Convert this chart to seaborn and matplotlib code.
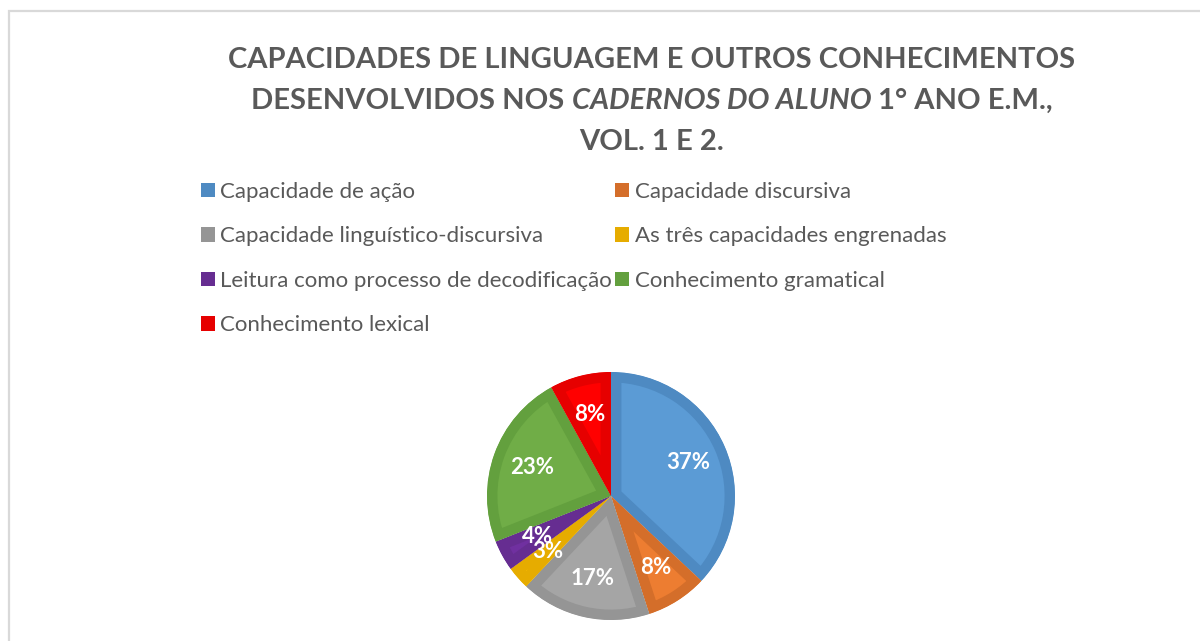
import matplotlib
matplotlib.use("Agg")
import matplotlib.pyplot as plt
import seaborn as sns
from matplotlib.patches import Patch, Rectangle

# ---- data ----
categories = [
    "Capacidade de ação",
    "Capacidade discursiva",
    "Capacidade linguístico-discursiva",
    "As três capacidades engrenadas",
    "Leitura como processo de decodificação",
    "Conhecimento gramatical",
    "Conhecimento lexical",
]
values = [37, 8, 17, 3, 4, 23, 8]
fill_colors = ["#5B9BD5", "#ED7D31", "#A5A5A5", "#FFC000", "#7030A0", "#70AD47", "#FF0000"]
edge_colors = ["#4E8AC2", "#D46E2A", "#959595", "#E6AC00", "#662D91", "#63A03E", "#E60000"]
title_lines = ["CAPACIDADES DE LINGUAGEM E OUTROS CONHECIMENTOS",
               ["DESENVOLVIDOS NOS ", "CADERNOS DO ALUNO", " 1° ANO E.M.,"],
               "VOL. 1 E 2."]

sns.set_theme(style="white")
plt.rcParams["font.family"] = ["Lato", "DejaVu Sans"]

W, H = 1200, 641
fig = plt.figure(figsize=(W / 100, H / 100), dpi=100)
fig.patch.set_facecolor("white")

# chart-area border (Excel style)
fig.patches.append(Rectangle((9 / W, -0.05), 1.2, (H - 11) / H + 0.05, transform=fig.transFigure,
                             fill=False, edgecolor="#D9D9D9", linewidth=1.6))

text_color = "#595959"

# ---- title ----
tsize = 21
cx = 652 / W
fig.text(cx, 1 - 60 / H, title_lines[0], ha="center", va="center", fontsize=tsize,
         fontweight="bold", color=text_color)
fig.text(cx, 1 - 142 / H, title_lines[2], ha="center", va="center", fontsize=tsize,
         fontweight="bold", color=text_color)
# line 2 with italic middle part
fig.canvas.draw()
renderer = fig.canvas.get_renderer()
styles = ["normal", "italic", "normal"]
parts = []
for s, st in zip(title_lines[1], styles):
    t = fig.text(0, 1 - 101 / H, s, ha="left", va="center", fontsize=tsize, fontweight="bold",
                 style=st, color=text_color)
    parts.append(t)
widths = [p.get_window_extent(renderer).width for p in parts]
total = sum(widths)
x0 = cx * W - total / 2
for p, w in zip(parts, widths):
    p.set_x(x0 / W)
    x0 += w

# ---- pie ----
pcx, pcy, r = 611, 496, 124
ax = fig.add_axes([(pcx - r) / W, (H - pcy - r) / H, 2 * r / W, 2 * r / H])
wedges, texts, autotexts = ax.pie(
    values, colors=fill_colors, startangle=90, counterclock=False,
    autopct="%1.0f%%", pctdistance=0.68,
    textprops=dict(color="white", fontsize=16, fontweight="bold"),
    wedgeprops=dict(linewidth=15, antialiased=True, joinstyle="miter"))
for w, ec in zip(wedges, edge_colors):
    w.set_edgecolor(ec)
    w.set_clip_on(True)
    w.set_clip_path(w)
ax.set_xlim(-1, 1)
ax.set_ylim(-1, 1)
ax.set_aspect("equal")
ax.axis("off")

# ---- legend (row-major order in 2 columns) ----
handles = [Patch(facecolor=c, edgecolor="none") for c in edge_colors]
order = [0, 2, 4, 6, 1, 3, 5]
leg = fig.legend([handles[i] for i in order], [categories[i] for i in order],
                 ncol=2, loc="upper left", bbox_to_anchor=(201 / W, 1 - 182 / H),
                 frameon=False, fontsize=16, labelcolor=text_color,
                 handlelength=0.62, handleheight=0.62, handletextpad=0.25,
                 columnspacing=0.15, labelspacing=1.1, borderaxespad=0, borderpad=0)

fig.savefig("out.png", dpi=100, facecolor="white")
